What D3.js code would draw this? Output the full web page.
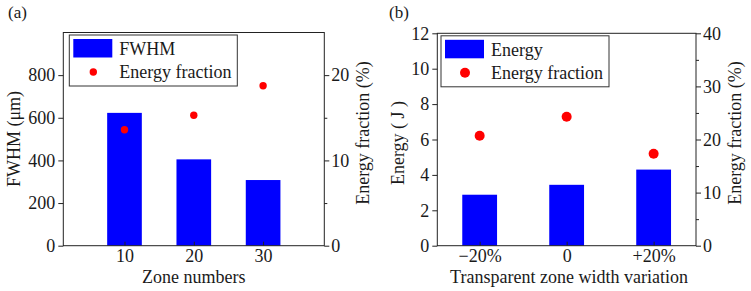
<!DOCTYPE html>
<html>
<head>
<meta charset="utf-8">
<script src="https://cdn.jsdelivr.net/npm/d3@7"></script>
<style>
  body { margin: 0; background: #fff; }
  svg text { font-family: "Liberation Serif", "Times New Roman", serif; fill: #1a1a1a; }
  .axis path, .axis line { stroke: #222; }
</style>
</head>
<body>
<svg id="chart" width="751" height="291"></svg>
<script>
// panel (a)
var zoneNumbers = ["10", "20", "30"],
    fwhm = [623, 405, 308],
    fractionA = [13.6, 15.3, 18.75];

// panel (b)
var widthVariation = ["\u221220%", "0", "+20%"],
    energy = [2.88, 3.44, 4.3],
    fractionB = [20.7, 24.3, 17.3];

var leftTicksA = [0, 200, 400, 600, 800],
    rightTicksA = [0, 10, 20],
    rightMinorA = [5, 15],
    leftTicksB = [0, 2, 4, 6, 8, 10, 12],
    rightTicksB = [0, 10, 20, 30, 40],
    rightMinorB = [5, 15, 25, 35];

var fs = 18;
var svg = d3.select("#chart");

function drawPanel(cfg) {
    var x = d3.scalePoint()
        .domain(cfg.cats)
        .range([cfg.left, cfg.right])
        .padding(cfg.pad);

    var y = d3.scaleLinear().domain(cfg.yDomain).range([cfg.bottom, cfg.top]),
        y2 = d3.scaleLinear().domain(cfg.y2Domain).range([cfg.bottom, cfg.top]);

    var g = svg.append("g");
    var bw = x.step() * cfg.barFrac;

    // bars
    g.selectAll("rect.bar")
        .data(cfg.bars)
        .enter().append("rect")
        .attr("class", "bar")
        .attr("x", function(d, i) { return x(cfg.cats[i]) - bw / 2; })
        .attr("y", function(d) { return y(d); })
        .attr("width", bw)
        .attr("height", function(d) { return cfg.bottom - y(d); })
        .attr("fill", "#0000ff");

    // frame
    g.append("rect")
        .attr("x", cfg.left).attr("y", cfg.top)
        .attr("width", cfg.right - cfg.left)
        .attr("height", cfg.bottom - cfg.top)
        .attr("fill", "none").attr("stroke", "#222");

    // x axis, ticks point inward
    var xa = g.append("g").attr("class", "axis")
        .attr("transform", "translate(0," + cfg.bottom + ")")
        .call(d3.axisBottom(x).tickSize(-4).tickPadding(4).tickSizeOuter(0));
    xa.select(".domain").remove();
    xa.selectAll("text").attr("font-size", fs);

    var ya = g.append("g").attr("class", "axis")
        .attr("transform", "translate(" + cfg.left + ",0)")
        .call(d3.axisLeft(y).tickValues(cfg.yTicks).tickSize(5).tickPadding(3).tickSizeOuter(0));
    ya.select(".domain").remove();
    ya.selectAll("text").attr("font-size", fs);

    var y2a = g.append("g").attr("class", "axis")
        .attr("transform", "translate(" + cfg.right + ",0)")
        .call(d3.axisRight(y2).tickValues(cfg.y2Ticks).tickSize(5).tickPadding(2).tickSizeOuter(0));
    y2a.select(".domain").remove();
    y2a.selectAll("text").attr("font-size", fs);

    var y2m = g.append("g").attr("class", "axis")
        .attr("transform", "translate(" + cfg.right + ",0)")
        .call(d3.axisRight(y2).tickValues(cfg.y2Minor).tickSize(3).tickFormat(""));
    y2m.select(".domain").remove();

    // dots
    g.selectAll("circle.dot")
        .data(cfg.dots)
        .enter().append("circle")
        .attr("class", "dot")
        .attr("cx", function(d, i) { return x(cfg.cats[i]); })
        .attr("cy", function(d) { return y2(d); })
        .attr("r", cfg.r)
        .attr("fill", "#ff0000");

    // axis titles
    g.append("text")
        .attr("transform", "translate(" + cfg.yLabelX + "," + cfg.yLabelY + ") rotate(-90)")
        .attr("text-anchor", "middle")
        .attr("font-size", fs)
        .text(cfg.yLabel);

    g.append("text")
        .attr("transform", "translate(" + cfg.y2LabelX + "," + cfg.y2LabelY + ") rotate(-90)")
        .attr("text-anchor", "middle")
        .attr("font-size", fs)
        .text("Energy fraction (%)");

    g.append("text")
        .attr("x", cfg.xLabelX).attr("y", 283)
        .attr("text-anchor", "middle")
        .attr("font-size", fs)
        .text(cfg.xLabel);

    g.append("text")
        .attr("x", cfg.tagX).attr("y", 18)
        .attr("font-size", 17)
        .text(cfg.tag);

    // legend
    var lx = cfg.left + cfg.legDx, ly = cfg.top + 2.5;
    var leg = g.append("g").attr("transform", "translate(" + lx + "," + ly + ")");
    leg.append("rect")
        .attr("width", 168).attr("height", 51)
        .attr("fill", "#fff").attr("stroke", "#333");
    leg.append("rect")
        .attr("x", 4).attr("y", 4).attr("width", 39).attr("height", 18.5)
        .attr("fill", "#0000ff");
    leg.append("circle")
        .attr("cx", 24).attr("cy", 37).attr("r", cfg.r)
        .attr("fill", "#ff0000");
    leg.append("text").attr("x", 50).attr("y", 20).attr("font-size", fs).text(cfg.barName);
    leg.append("text").attr("x", 50).attr("y", 43).attr("font-size", fs).text("Energy fraction");
}

drawPanel({
    tag: "(a)", tagX: 8,
    cats: zoneNumbers, bars: fwhm, dots: fractionA,
    left: 63.3, right: 324.3, top: 32.5, bottom: 245.7,
    pad: 0.883, barFrac: 0.5, r: 3.7,
    yDomain: [0, 1000], yTicks: leftTicksA,
    y2Domain: [0, 25], y2Ticks: rightTicksA, y2Minor: rightMinorA,
    yLabel: "FWHM (\u03bcm)", yLabelX: 20, yLabelY: 139,
    y2LabelX: 368.5, y2LabelY: 133,
    xLabel: "Zone numbers", xLabelX: 193.7,
    barName: "FWHM", legDx: 6
});

drawPanel({
    tag: "(b)", tagX: 389,
    cats: widthVariation, bars: energy, dots: fractionB,
    left: 437.3, right: 696, top: 33.3, bottom: 245.7,
    pad: 0.487, barFrac: 0.4, r: 5,
    yDomain: [0, 12], yTicks: leftTicksB,
    y2Domain: [0, 40], y2Ticks: rightTicksB, y2Minor: rightMinorB,
    yLabel: "Energy ( J )", yLabelX: 403.5, yLabelY: 143,
    y2LabelX: 740.5, y2LabelY: 133,
    xLabel: "Transparent zone width variation", xLabelX: 569,
    barName: "Energy", legDx: 3.7
});
</script>
</body>
</html>
